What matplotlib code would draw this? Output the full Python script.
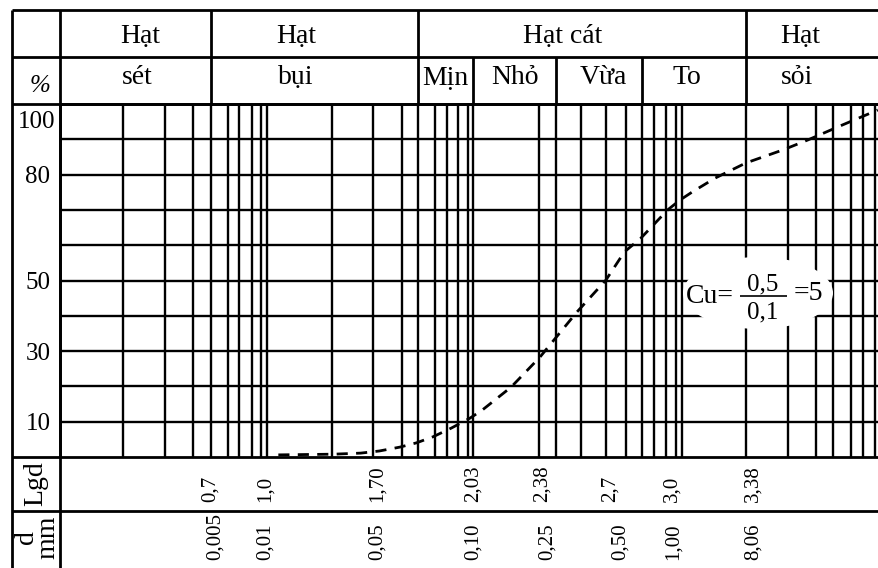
import matplotlib.pyplot as plt
import matplotlib.transforms as mtransforms
from matplotlib.patches import Ellipse

# --- data (x in Lgd = log10 of d in micrometres, y in % passing) ---
curve_lgd = [1.06, 1.33, 1.46, 1.55, 1.65, 1.73, 1.81, 1.90, 1.99, 2.05, 2.19, 2.33,
             2.41, 2.51, 2.65, 2.74, 2.82, 2.95, 3.01, 3.07, 3.18, 3.33, 3.51, 3.63,
             3.80, 3.97]
curve_pct = [0.6, 0.8, 1.1, 1.7, 2.8, 4.0, 5.7, 8.2, 11.0, 13.3, 19.8, 28.3,
             34.0, 41.1, 50.1, 58.1, 62.0, 70.0, 72.8, 75.1, 79.0, 83.3, 87.0, 89.8,
             94.1, 98.3]

grid_lgd = [0.306, 0.510, 0.646, 0.733, 0.816, 0.869, 0.932, 0.976, 1.005,
            1.320, 1.519, 1.660, 1.738, 1.820, 1.879, 1.932, 1.981, 2.005,
            2.325, 2.408, 2.529, 2.650, 2.748, 2.825, 2.883, 2.942, 2.990, 3.019,
            3.330, 3.534, 3.670, 3.752, 3.840, 3.898, 3.956]
grid_pct = [10, 20, 30, 40, 50, 60, 70, 80, 90]

group_edges = [0.733, 1.738, 3.330]   # Hạt sét | Hạt bụi | Hạt cát | Hạt sỏi
sand_edges = [2.005, 2.408, 2.825]    # Mịn | Nhỏ | Vừa | To

group_names = ["Hạt", "Hạt", "Hạt cát", "Hạt"]
sub_names = ["sét", "bụi", "Mịn", "Nhỏ", "Vừa", "To", "sỏi"]
pct_labels = ["100", "80", "50", "30", "10"]
pct_values = [100, 80, 50, 30, 10]
lgd_labels = ["0,7", "1,0", "1,70", "2,03", "2,38", "2,7", "3,0", "3,38"]
d_labels = ["0,005", "0,01", "0,05", "0,10", "0,25", "0,50", "1,00", "8,06"]

plt.rcParams['font.family'] = ['Liberation Serif', 'DejaVu Serif']

W, H = 879, 568
fig = plt.figure(figsize=(W / 100, H / 100), dpi=100)

# plot area
ax = fig.add_axes([60 / W, 1 - 457 / H, (W - 60) / W, (457 - 104) / H])
ax.set_zorder(1)
ax.set_xlim(0, 3.976)
ax.set_ylim(0, 100)
ax.set_xticks([])
ax.set_yticks([])
for side in ["left", "top", "bottom"]:
    ax.spines[side].set_linewidth(2.0)
ax.spines["right"].set_visible(False)
ax.vlines(grid_lgd, 0, 100, color="black", lw=1.7)
ax.hlines(grid_pct, 0, 3.976, color="black", lw=1.7)
ax.plot(curve_lgd, curve_pct, color="black", lw=2.0, dashes=(4, 3))

# table frame in pixel coordinates, drawn on top
tab = fig.add_axes([0, 0, 1, 1])
tab.set_zorder(2)
tab.set_xlim(0, W)
tab.set_ylim(H, 0)
tab.axis("off")

lw = 2.0
tab.hlines([10, 57, 104, 511], 12, W, color="black", lw=lw)
tab.hlines([457], 12, 60, color="black", lw=lw)
tab.vlines([12, 60], 10, H, color="black", lw=lw)
head = mtransforms.blended_transform_factory(ax.transData, tab.transData)
tab.vlines(group_edges, 10, 104, color="black", lw=lw, transform=head)
tab.vlines(sand_edges, 57, 104, color="black", lw=lw, transform=head)

fs = 20
for name, x in zip(group_names, [140, 296, 563, 800]):
    tab.text(x, 43, name, fontsize=fs, ha="center", va="baseline")
for name, x in zip(sub_names, [137, 296, 445, 515, 603, 687, 797]):
    tab.text(x, 84, name, fontsize=fs, ha="center", va="baseline")
tab.text(40, 92, "%", fontsize=18, style="italic", ha="center", va="baseline")

# percent labels
pct_tr = mtransforms.blended_transform_factory(tab.transData, ax.transData)
for lab, v in zip(pct_labels, pct_values):
    if v == 100:
        tab.text(37, 128, lab, fontsize=18, ha="center", va="baseline")
    else:
        tab.text(38, v, lab, fontsize=18, ha="center", va="center_baseline",
                 transform=pct_tr)

# bottom rows
tab.text(36, 484, "Lgd", fontsize=20, rotation=90, ha="center", va="center")
tab.text(37, 537, "d\nmm", fontsize=20, rotation=90, ha="center", va="center",
         linespacing=0.8)
lab_x = [210, 265, 377, 473, 542, 610, 672, 753]
d_x = [215, 265, 377, 473, 547, 620, 673, 753]
for lab, x in zip(lgd_labels, lab_x):
    tab.text(x, 502, lab, fontsize=15, rotation=90, ha="center", va="bottom")
for lab, x in zip(d_labels, d_x):
    tab.text(x, 560, lab, fontsize=15, rotation=90, ha="center", va="bottom")

# Cu annotation
tab.add_patch(Ellipse((758, 293), 150, 72, facecolor="white", edgecolor="none"))
tab.text(710, 303, "Cu=", fontsize=20, ha="center", va="baseline")
tab.text(763, 290, "0,5", fontsize=18, ha="center", va="baseline")
tab.text(763, 318, "0,1", fontsize=18, ha="center", va="baseline")
tab.hlines([296], 740, 787, color="black", lw=1.2)
tab.text(808, 300, "=5", fontsize=20, ha="center", va="baseline")

fig.savefig("out.png", dpi=100)
